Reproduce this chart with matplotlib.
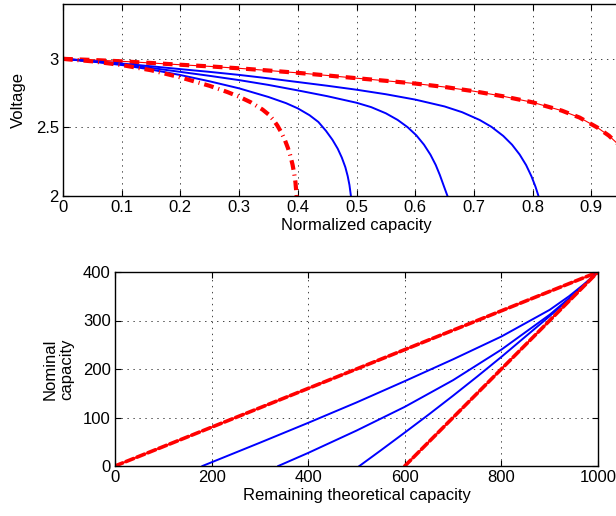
import matplotlib
matplotlib.use("Agg")
import matplotlib.pyplot as plt

plt.rcParams['font.family'] = ['Liberation Sans', 'DejaVu Sans']
plt.rcParams['lines.scale_dashes'] = False

# ---------------- top panel data ----------------
red_up_c = [0, 0.05, 0.1, 0.15, 0.2, 0.25, 0.3, 0.35, 0.4, 0.45, 0.5, 0.55, 0.6, 0.65, 0.7,
            0.75, 0.8, 0.85, 0.88, 0.91, 0.93, 0.95, 0.97, 0.985, 1.0]
red_up_v = [3.0, 2.992, 2.982, 2.97, 2.957, 2.945, 2.931, 2.915, 2.898, 2.879, 2.859, 2.84, 2.82,
            2.795, 2.764, 2.727, 2.683, 2.622, 2.572, 2.5, 2.44, 2.36, 2.25, 2.14, 2.0]

blue1_c = [0, 0.05, 0.1, 0.15, 0.2, 0.25, 0.3, 0.35, 0.4, 0.45, 0.5, 0.55, 0.6, 0.65, 0.68,
           0.71, 0.73, 0.75, 0.765, 0.778, 0.789, 0.798, 0.805, 0.81]
blue1_v = [3.0, 2.984, 2.966, 2.946, 2.925, 2.905, 2.883, 2.858, 2.831, 2.804, 2.775, 2.742,
           2.703, 2.653, 2.611, 2.554, 2.504, 2.438, 2.374, 2.302, 2.225, 2.144, 2.067, 2.0]

blue2_c = [0, 0.05, 0.1, 0.15, 0.2, 0.25, 0.3, 0.35, 0.4, 0.45, 0.5, 0.525, 0.55, 0.57, 0.587,
           0.602, 0.615, 0.626, 0.635, 0.642, 0.649, 0.655]
blue2_v = [3.0, 2.982, 2.96, 2.934, 2.905, 2.876, 2.845, 2.81, 2.77, 2.728, 2.68, 2.648, 2.603,
           2.555, 2.502, 2.442, 2.374, 2.301, 2.226, 2.153, 2.07, 2.0]

blue3_c = [0, 0.05, 0.1, 0.15, 0.2, 0.25, 0.3, 0.35, 0.38, 0.40, 0.42, 0.435, 0.448, 0.459,
           0.468, 0.475, 0.481, 0.485, 0.488, 0.4905]
blue3_v = [3.0, 2.98, 2.955, 2.922, 2.882, 2.836, 2.785, 2.722, 2.677, 2.639, 2.589, 2.54,
           2.475, 2.41, 2.345, 2.28, 2.21, 2.145, 2.08, 2.0]

red_lo_c = [0, 0.05, 0.1, 0.15, 0.2, 0.25, 0.28, 0.3, 0.32, 0.34, 0.35, 0.358, 0.365, 0.372,
            0.378, 0.383, 0.387, 0.391, 0.394, 0.396, 0.398]
red_lo_v = [3.0, 2.982, 2.955, 2.917, 2.865, 2.803, 2.758, 2.724, 2.683, 2.63, 2.595, 2.557,
            2.515, 2.463, 2.408, 2.352, 2.298, 2.23, 2.16, 2.1, 2.0]

top_xticks = [0, 0.1, 0.2, 0.3, 0.4, 0.5, 0.6, 0.7, 0.8, 0.9, 1.0]
top_xticklabels = ['0', '0.1', '0.2', '0.3', '0.4', '0.5', '0.6', '0.7', '0.8', '0.9', '']
top_yticks = [2, 2.5, 3]
top_yticklabels = ['2', '2.5', '3']

# ---------------- bottom panel data ----------------
rline_hi_x = [0, 1000]
rline_hi_y = [0, 400]
rline_lo_x = [600, 1000]
rline_lo_y = [0, 400]

b1_x = [181, 300, 400, 500, 600, 700, 800, 900, 940, 970, 1000]
b1_y = [0, 48, 89, 131, 175, 220, 267, 322, 350, 374, 400]
b2_x = [338, 400, 500, 600, 700, 800, 900, 950, 1000]
b2_y = [0, 27, 73, 122, 177, 240, 312, 354, 400]
b3_x = [506, 550, 600, 650, 700, 750, 800, 900, 950, 1000]
b3_y = [0, 32, 69, 106.5, 145, 184.5, 225, 309, 353, 400]

bot_xticks = [0, 200, 400, 600, 800, 1000]
bot_yticks = [0, 100, 200, 300, 400]

W, H = 616, 516
FS = 12
fig = plt.figure(figsize=(W / 100, H / 100), dpi=100)

def style(ax):
    ax.tick_params(direction='in', length=4, width=0.8, top=True, right=True,
                   labelsize=FS, colors='black', pad=3)
    for s in ax.spines.values():
        s.set_linewidth(1.0)
        s.set_color('black')
    ax.grid(True, color='0.15', linestyle=(0, (1, 3.3)), linewidth=0.6)
    ax.set_axisbelow(True)

# top axes (extends beyond right edge of figure, as in the reference)
ax1 = fig.add_axes([63 / W, 1 - 196 / H, (650 - 63) / W, (196 - 4) / H])
style(ax1)
ax1.plot(red_up_c, red_up_v, color='red', lw=0.8)
ax1.plot(red_up_c, red_up_v, color='red', lw=3.0, linestyle=(0, (7, 5)), dash_capstyle='butt')
ax1.plot(blue1_c, blue1_v, color='blue', lw=1.4)
ax1.plot(blue2_c, blue2_v, color='blue', lw=1.4)
ax1.plot(blue3_c, blue3_v, color='blue', lw=1.4)
ax1.plot(red_lo_c, red_lo_v, color='red', lw=3.0, linestyle=(0, (7, 3.5, 0.8, 3.5)),
         dash_capstyle='butt')
ax1.set_xlim(0, 1)
ax1.set_ylim(2, 3.4)
ax1.set_xticks(top_xticks)
ax1.set_xticklabels(top_xticklabels)
ax1.set_yticks(top_yticks)
ax1.set_yticklabels(top_yticklabels)
ax1.set_xlabel('Normalized capacity', fontsize=FS, labelpad=2)
ax1.set_ylabel('Voltage', fontsize=FS, labelpad=7)

# bottom axes
ax2 = fig.add_axes([115 / W, 1 - 466 / H, (598 - 115) / W, (466 - 272) / H])
style(ax2)
ax2.plot(rline_hi_x, rline_hi_y, color='red', lw=0.8)
ax2.plot(rline_hi_x, rline_hi_y, color='red', lw=2.6, linestyle=(0, (6, 2.5)),
         dash_capstyle='round')
ax2.plot(b1_x, b1_y, color='blue', lw=1.4)
ax2.plot(b2_x, b2_y, color='blue', lw=1.4)
ax2.plot(b3_x, b3_y, color='blue', lw=1.4)
ax2.plot(rline_lo_x, rline_lo_y, color='red', lw=0.8)
ax2.plot(rline_lo_x, rline_lo_y, color='red', lw=2.6, linestyle=(0, (6, 2.5)),
         dash_capstyle='round')
ax2.set_xlim(0, 1000)
ax2.set_ylim(0, 400)
ax2.set_xticks(bot_xticks)
ax2.set_yticks(bot_yticks)
ax2.set_xlabel('Remaining theoretical capacity', fontsize=FS, labelpad=2)
ax2.set_ylabel('Nominal\ncapacity', fontsize=FS, labelpad=6)

fig.savefig('out.png', dpi=100)
